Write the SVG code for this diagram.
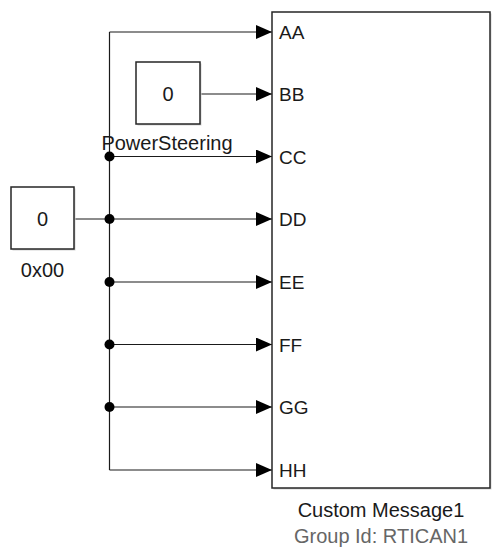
<svg xmlns="http://www.w3.org/2000/svg" width="493" height="547" viewBox="0 0 493 547">
  <style>
    .blk { fill: #ffffff; stroke: #262626; stroke-width: 1.5; }
    .shadow { fill: #d4d4d4; }
    .wire { fill: none; stroke: #1a1a1a; stroke-width: 1.2; }
    .txt { font-family: "Liberation Sans", Arial, sans-serif; font-size: 20px; fill: #1a1a1a; }
    .port { font-size: 19px; }
    .mid { text-anchor: middle; }
    .gray { fill: #666666; }
    .dot { fill: #000000; }
  </style>
  <defs>
    <marker id="arr" markerWidth="16" markerHeight="14" refX="16" refY="7" orient="auto" markerUnits="userSpaceOnUse">
      <path d="M0,0 L16,7 L0,14 Z" fill="#000000"/>
    </marker>
  </defs>

  <g id="connectors">
    <path class="wire" d="M109.5,32 L109.5,470"/>
    <path class="wire" d="M109.5,32 L272,32" marker-end="url(#arr)"/>
    <path class="wire" d="M200,94 L272,94" marker-end="url(#arr)"/>
    <path class="wire" d="M109.5,156.5 L272,156.5" marker-end="url(#arr)"/>
    <path class="wire" d="M74,219 L272,219" marker-end="url(#arr)"/>
    <path class="wire" d="M109.5,282 L272,282" marker-end="url(#arr)"/>
    <path class="wire" d="M109.5,344.5 L272,344.5" marker-end="url(#arr)"/>
    <path class="wire" d="M109.5,407 L272,407" marker-end="url(#arr)"/>
    <path class="wire" d="M109.5,470 L272,470" marker-end="url(#arr)"/>
    <circle class="dot" cx="109.5" cy="156.5" r="5"/>
    <circle class="dot" cx="109.5" cy="219" r="5"/>
    <circle class="dot" cx="109.5" cy="282" r="5"/>
    <circle class="dot" cx="109.5" cy="344.5" r="5"/>
    <circle class="dot" cx="109.5" cy="407" r="5"/>
  </g>

  <g id="const-0x00">
    <rect class="shadow" x="12.5" y="188.5" width="63" height="62"/>
    <rect class="blk" x="11" y="187" width="63" height="62"/>
    <text class="txt mid" x="42.5" y="226">0</text>
    <text class="txt mid" x="42.5" y="277">0x00</text>
  </g>

  <g id="const-powersteering">
    <rect class="shadow" x="137.5" y="63.5" width="64" height="62"/>
    <rect class="blk" x="136" y="62" width="64" height="62"/>
    <text class="txt mid" x="168" y="100.5">0</text>
    <text class="txt mid" x="167" y="150">PowerSteering</text>
  </g>

  <g id="custom-message1">
    <rect class="shadow" x="273.5" y="13.5" width="218" height="476"/>
    <rect class="blk" x="272" y="12" width="218" height="476"/>
    <text class="txt port" x="279" y="38.5">AA</text>
    <text class="txt port" x="279" y="101">BB</text>
    <text class="txt port" x="279" y="163.5">CC</text>
    <text class="txt port" x="279" y="226">DD</text>
    <text class="txt port" x="279" y="289">EE</text>
    <text class="txt port" x="279" y="351.5">FF</text>
    <text class="txt port" x="279" y="414">GG</text>
    <text class="txt port" x="279" y="477">HH</text>
    <text class="txt mid" x="381" y="517">Custom Message1</text>
    <text class="txt mid gray" x="381" y="543">Group Id: RTICAN1</text>
  </g>
</svg>
